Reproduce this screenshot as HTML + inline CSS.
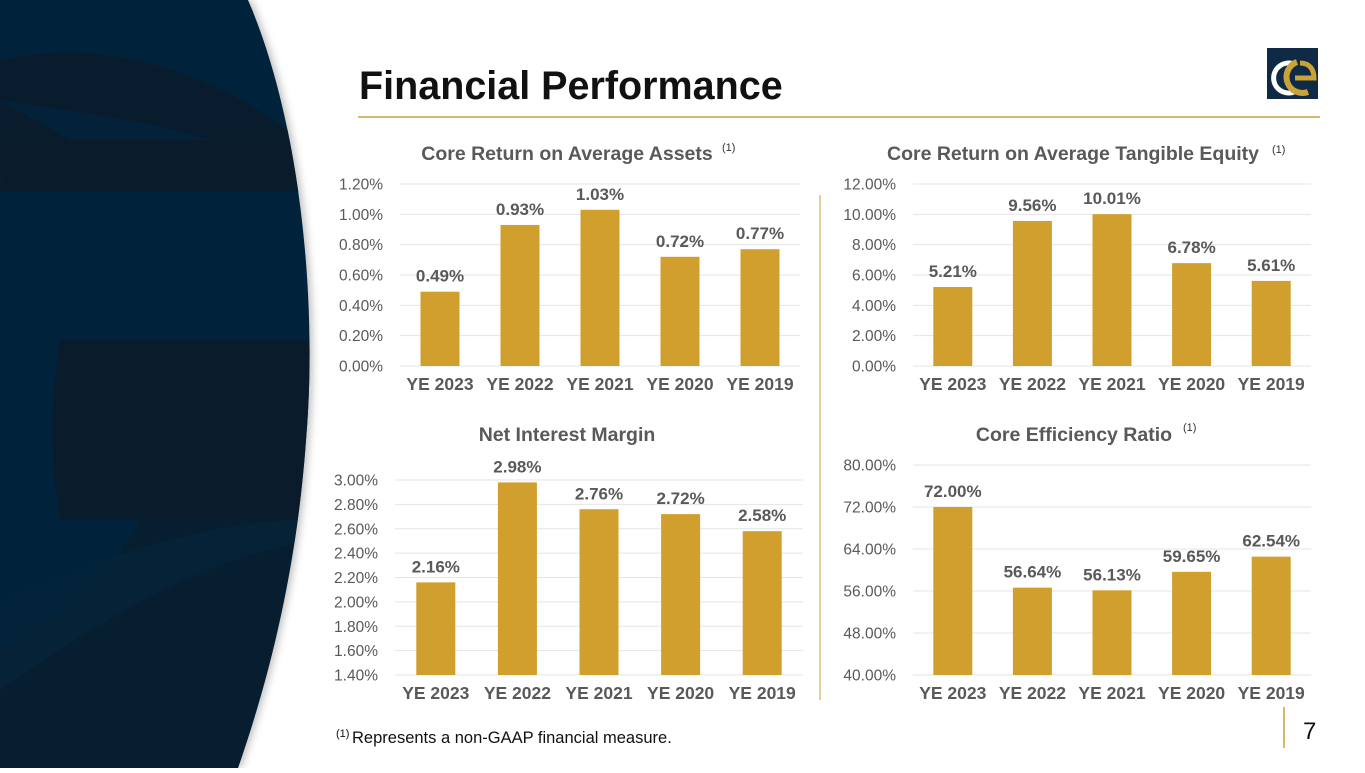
<!DOCTYPE html>
<html><head><meta charset="utf-8"><style>
html,body{margin:0;padding:0;background:#fff;}
body{width:1365px;height:768px;overflow:hidden;position:relative;font-family:"Liberation Sans",Arial,sans-serif;}
svg text{font-family:"Liberation Sans",Arial,sans-serif;}
</style></head><body>
<svg id="s" width="1365" height="768" viewBox="0 0 1365 768">
 <defs>
  <clipPath id="bgc"><path d="M0,0 L248,0 C300,120 318,300 306,440 C296,580 265,690 238,768 L0,768 Z"/></clipPath>
  <filter id="sh" x="-10%" y="-10%" width="130%" height="120%"><feDropShadow dx="3" dy="0" stdDeviation="4" flood-color="#000" flood-opacity="0.25"/></filter>
 </defs>
 <g>
  <path d="M0,0 L248,0 C300,120 318,300 306,440 C296,580 265,690 238,768 L0,768 Z" fill="#03223a" filter="url(#sh)"/>
  <g clip-path="url(#bgc)">
   <path d="M0,60 C90,40 200,60 300,140 L300,190 L0,190 Z" fill="#0b1c2b" opacity="0.8"/>
   <path d="M0,100 C60,110 150,120 210,140 L70,140 Z" fill="#03223a"/>
   <path d="M0,140 L320,140 L320,192 L0,192 Z" fill="#0b1c2b" opacity="0.6"/>
   <path d="M0,160 C0,170 5,180 8,190 L0,190Z" fill="#0b1c2b"/>
   <path d="M60,340 L310,340 L310,520 L60,520 C50,460 50,400 60,340 Z" fill="#0b1c2b" opacity="0.9"/>
   <path d="M140,520 L310,520 L310,768 L0,768 L0,650 C60,620 110,580 140,520 Z" fill="#0b1c2b" opacity="0.6"/>
   <path d="M0,600 C100,560 200,520 310,520 L310,540 C200,560 100,620 0,690 Z" fill="#04233a" opacity="0.7"/>
  </g>
 </g>
 <text x="359" y="99" font-size="39.5" font-weight="bold" fill="#111">Financial Performance</text>
 <line x1="358" y1="117" x2="1320" y2="117" stroke="#c9a23a" stroke-width="1.5"/>
 <g>
  <rect x="1267" y="48" width="51" height="51" fill="#0f2a44"/>
  <path d="M1294,64 A15,15 0 1 0 1294,92" fill="none" stroke="#fff" stroke-width="5"/>
  <path d="M1297,62 A15,15 0 1 0 1308,92" fill="none" stroke="#c9a23a" stroke-width="6"/>
  <path d="M1300,63 C1310,63 1314,70 1314,78 L1295,78" fill="none" stroke="#c9a23a" stroke-width="5"/>
 </g>
 <line x1="820" y1="195" x2="820" y2="700" stroke="#c9a23a" stroke-width="1"/>
 <g id="charts"></g>
 <text x="336" y="737" font-size="11" fill="#111">(1)</text>
 <text x="352" y="743" font-size="16.5" fill="#111">Represents a non-GAAP financial measure.</text>
 <line x1="1284" y1="707" x2="1284" y2="748" stroke="#c9a23a" stroke-width="1.5"/>
 <text x="1303" y="739" font-size="24" fill="#111">7</text>
</svg>
<script>
const categories = ["YE 2023","YE 2022","YE 2021","YE 2020","YE 2019"];
const roaValues = [0.49,0.93,1.03,0.72,0.77];
const roaTicks = [0,0.2,0.4,0.6,0.8,1.0,1.2];
const roteValues = [5.21,9.56,10.01,6.78,5.61];
const roteTicks = [0,2,4,6,8,10,12];
const nimValues = [2.16,2.98,2.76,2.72,2.58];
const nimTicks = [1.4,1.6,1.8,2.0,2.2,2.4,2.6,2.8,3.0];
const effValues = [72.00,56.64,56.13,59.65,62.54];
const effTicks = [40,48,56,64,72,80];

const NS="http://www.w3.org/2000/svg";
const root=document.getElementById('charts');
function mk(tag,attrs,parent,txt){const e=document.createElementNS(NS,tag);for(const k in attrs)e.setAttribute(k,attrs[k]);if(txt!==undefined)e.textContent=txt;parent.appendChild(e);return e;}

function drawChart(cfg){
  const g=mk('g',{},root);
  
  
  const min=cfg.ticks[0],max=cfg.ticks[cfg.ticks.length-1];
  const y=v=>cfg.bottom-(v-min)/(max-min)*(cfg.bottom-cfg.top);
  const bw=(cfg.x1-cfg.x0)/categories.length;
  const x=i=>cfg.x0+bw*(i+0.5);
  const t=mk('text',{x:cfg.titleX,y:cfg.titleY,'font-size':19.5,'font-weight':'bold',fill:'#595959','text-anchor':'middle'},g,cfg.title);
  
  
  if(cfg.note){const n=mk('text',{x:cfg.noteX,y:cfg.noteY,'font-size':11,fill:'#333'},g,'(1)');
    
    }
  cfg.ticks.forEach(tv=>{
    const l=mk('line',{x1:cfg.x0,x2:cfg.x1,y1:y(tv),y2:y(tv),stroke:'#e4e4e4','stroke-width':1},g);
    
    
    const tl=mk('text',{x:cfg.x0-17,y:y(tv)+5.5,'font-size':15.5,fill:'#595959','text-anchor':'end'},g,tv.toFixed(2)+'%');
    
    
  });
  cfg.values.forEach((v,i)=>{
    const r=mk('rect',{x:x(i)-19.5,y:y(v),width:39,height:cfg.bottom-y(v),fill:'#d09f2d'},g);
    
    
    const vl=mk('text',{x:x(i),y:y(v)-10,'font-size':17,'font-weight':'bold',fill:'#595959','text-anchor':'middle'},g,v.toFixed(2)+'%');
    
    
    const cl=mk('text',{x:x(i),y:cfg.bottom+24,'font-size':17.5,'font-weight':'bold',fill:'#595959','text-anchor':'middle'},g,categories[i]);
    
    
  });
}
drawChart({name:'core-roaa-chart',title:'Core Return on Average Assets',titleX:567,titleY:160,note:true,noteX:722,noteY:151,values:roaValues,ticks:roaTicks,x0:400,x1:800,top:184,bottom:366});
drawChart({name:'core-rotce-chart',title:'Core Return on Average Tangible Equity',titleX:1073,titleY:160,note:true,noteX:1272,noteY:153,values:roteValues,ticks:roteTicks,x0:913,x1:1311,top:184,bottom:366});
drawChart({name:'net-interest-margin-chart',title:'Net Interest Margin',titleX:567,titleY:441,note:false,values:nimValues,ticks:nimTicks,x0:395,x1:803,top:480,bottom:675});
drawChart({name:'core-efficiency-ratio-chart',title:'Core Efficiency Ratio',titleX:1074,titleY:441,note:true,noteX:1183,noteY:431,values:effValues,ticks:effTicks,x0:913,x1:1311,top:465,bottom:675});
</script>
</body></html>
